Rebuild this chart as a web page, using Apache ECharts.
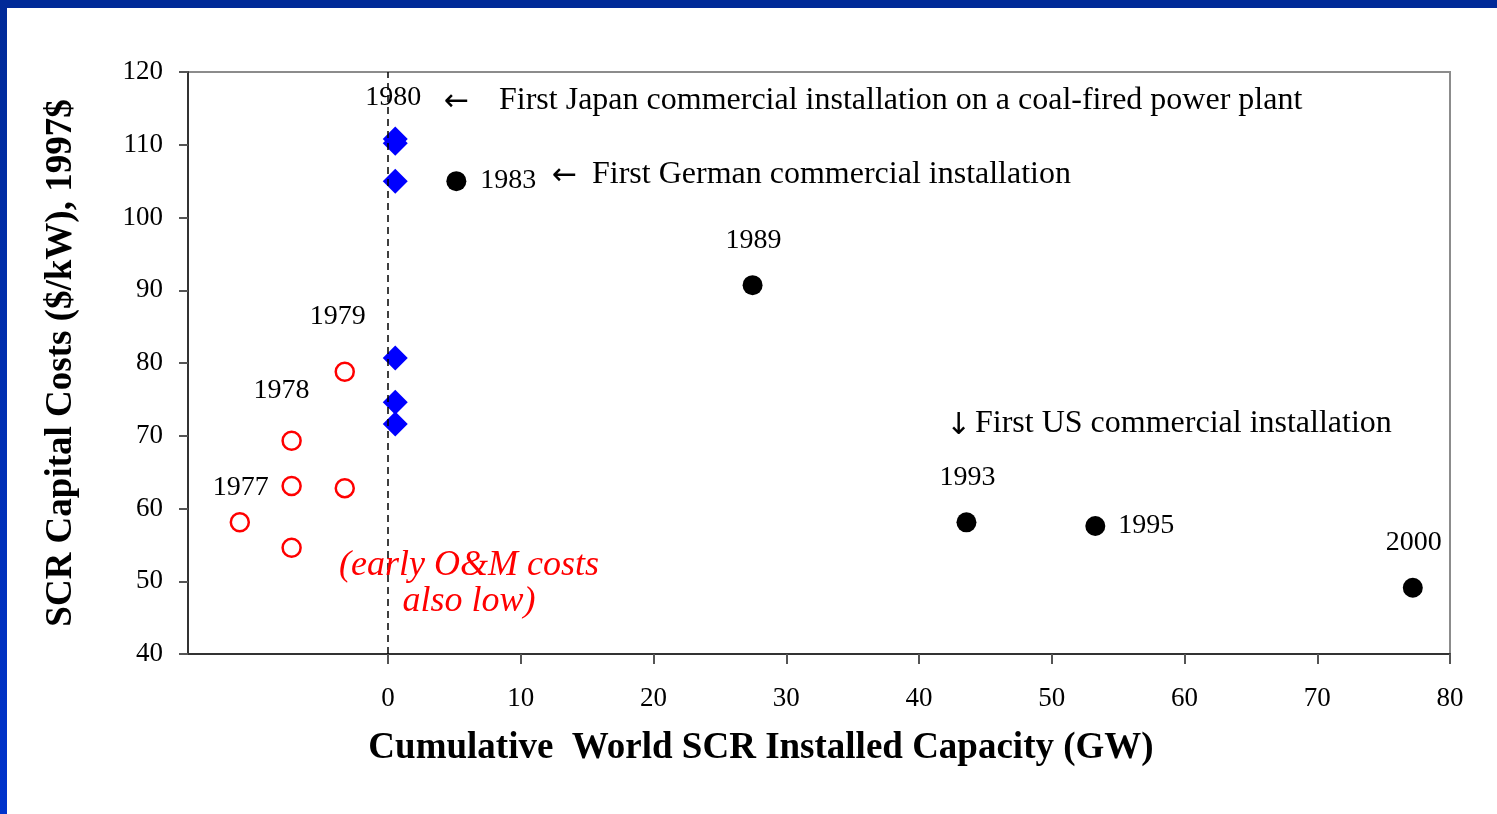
<!DOCTYPE html>
<html>
<head>
<meta charset="utf-8">
<script src="https://cdn.jsdelivr.net/npm/echarts@6/dist/echarts.min.js"></script>
<style>
  html, body { margin: 0; padding: 0; background: #fff; }
  #main { width: 1497px; height: 814px; }
</style>
</head>
<body>
<div id="main"></div>
<script>
// values
var xTicks = [0, 10, 20, 30, 40, 50, 60, 70, 80];
var yTicks = [40, 50, 60, 70, 80, 90, 100, 110, 120];

var earlyPoints = [[-11.1, 58.1], [-7.2, 69.3], [-7.2, 63.1], [-7.2, 54.6], [-3.2, 78.8], [-3.2, 62.8]];
var earlyYears = ['1977', '1978', '', '', '1979', ''];

var japanPoints = [[0.6, 110.8], [0.6, 110.2], [0.6, 105.0], [0.6, 80.7], [0.6, 74.6], [0.6, 71.6]];
var japanYears = ['1980', '', '', '', '', ''];

var worldPoints = [[5.2, 105.0], [27.5, 90.7], [43.6, 58.1], [53.3, 57.6], [77.2, 49.1]];
var worldYears = ['1983', '1989', '1993', '1995', '2000'];

var serif = '"Liberation Serif", "Times New Roman", serif';

// where each year label sits relative to its point
var labelPlace = {
  '1977': { position: 'inside', offset: [1, -35] },
  '1978': { position: 'inside', offset: [-10, -50] },
  '1979': { position: 'inside', offset: [-7, -55] },
  '1980': { position: 'inside', offset: [-2, -41] },
  '1983': { position: 'right', distance: 14, offset: [0, 0] },
  '1989': { position: 'inside', offset: [1, -45] },
  '1993': { position: 'inside', offset: [1, -45] },
  '1995': { position: 'right', distance: 13, offset: [0, 0] },
  '2000': { position: 'inside', offset: [1, -45] }
};

function build(points, years) {
  return points.map(function (p, i) {
    var item = { value: p };
    var y = years[i];
    if (y) {
      var pl = labelPlace[y];
      item.label = {
        show: true,
        formatter: y,
        position: pl.position,
        distance: pl.distance || 5,
        offset: pl.offset,
        color: '#000',
        fontFamily: serif,
        fontSize: 28
      };
    }
    return item;
  });
}

function note(x, y, txt, font) {
  return {
    type: 'text', x: x, y: y, z: 10,
    style: { text: txt, fill: '#000', font: font, verticalAlign: 'middle' }
  };
}

var arrowFont = '30px "DejaVu Sans", sans-serif';

var myChart = echarts.init(document.getElementById('main'));

var option = {
  backgroundColor: '#fff',
  animation: false,
  grid: [
    { left: 188, top: 72, right: 47, bottom: 160, show: true, borderColor: '#8c8c8c', borderWidth: 2, backgroundColor: 'transparent' },
    { left: 388, top: 72, right: 47, bottom: 160 }
  ],
  xAxis: [
    {
      type: 'value', gridIndex: 0, min: -15, max: 80,
      axisLine: { show: true, onZero: false, lineStyle: { color: '#333', width: 2 } },
      axisTick: { show: false },
      axisLabel: { show: false },
      splitLine: { show: false },
      name: 'Cumulative  World SCR Installed Capacity (GW)',
      nameLocation: 'middle',
      nameGap: 76,
      nameTextStyle: { color: '#000', fontFamily: serif, fontWeight: 'bold', fontSize: 37, padding: [0, 116, 0, 0] }
    },
    {
      type: 'value', gridIndex: 1, min: xTicks[0], max: xTicks[xTicks.length - 1], interval: 10,
      axisLine: { show: false, onZero: false },
      axisTick: { show: true, length: 10, lineStyle: { color: '#555', width: 2 } },
      axisLabel: { margin: 31, color: '#000', fontFamily: serif, fontSize: 27 },
      splitLine: { show: false }
    }
  ],
  yAxis: [
    {
      type: 'value', gridIndex: 0, min: yTicks[0], max: yTicks[yTicks.length - 1], interval: 10,
      axisLine: { show: true, onZero: false, lineStyle: { color: '#333', width: 2 } },
      axisTick: { show: true, length: 9, lineStyle: { color: '#555', width: 2 } },
      axisLabel: { margin: 25, color: '#000', fontFamily: serif, fontSize: 27 },
      splitLine: { show: false },
      name: 'SCR Capital Costs ($/kW), 1997$',
      nameLocation: 'middle',
      nameGap: 108,
      nameRotate: 90,
      nameTextStyle: { color: '#000', fontFamily: serif, fontWeight: 'bold', fontSize: 37 }
    },
    {
      type: 'value', gridIndex: 1, min: 40, max: 120, show: false
    }
  ],
  graphic: [
    {
      type: 'rect', left: 0, top: 0, z: 10,
      shape: { width: 1497, height: 8 },
      style: { fill: '#002a98' }
    },
    {
      type: 'rect', left: 0, top: 0, z: 10,
      shape: { width: 7, height: 814 },
      style: {
        fill: new echarts.graphic.LinearGradient(0, 0, 0, 1, [
          { offset: 0, color: '#002a98' },
          { offset: 1, color: '#0033cc' }
        ])
      }
    },
    note(444, 102, '\u2190', arrowFont),
    note(499, 101, 'First Japan commercial installation on a coal-fired power plant', '32px ' + serif),
    note(552, 176, '\u2190', arrowFont),
    note(592, 175, 'First German commercial installation', '32px ' + serif),
    note(946, 426, '\u2193', arrowFont),
    note(975, 424, 'First US commercial installation', '32px ' + serif),
    {
      type: 'text', x: 469, y: 548, z: 10,
      style: {
        text: '(early O&M costs\nalso low)',
        fill: '#ff0000',
        font: 'italic 36px ' + serif,
        align: 'center',
        lineHeight: 36
      }
    }
  ],
  series: [
    {
      name: 'early',
      type: 'scatter',
      xAxisIndex: 0, yAxisIndex: 0,
      symbol: 'circle',
      symbolSize: 18,
      itemStyle: { color: '#fff', borderColor: '#ff0000', borderWidth: 2.5, opacity: 1 },
      data: build(earlyPoints, earlyYears),
      markLine: {
        silent: true,
        symbol: 'none',
        label: { show: false },
        lineStyle: { color: '#000', type: [7, 5], width: 1.5 },
        data: [{ xAxis: 0 }]
      }
    },
    {
      name: 'japan',
      type: 'scatter',
      xAxisIndex: 0, yAxisIndex: 0,
      symbol: 'diamond',
      symbolSize: 25,
      itemStyle: { color: '#0000ff', opacity: 1 },
      data: build(japanPoints, japanYears)
    },
    {
      name: 'world',
      type: 'scatter',
      xAxisIndex: 0, yAxisIndex: 0,
      symbol: 'circle',
      symbolSize: 20,
      itemStyle: { color: '#000', opacity: 1 },
      data: build(worldPoints, worldYears)
    }
  ]
};

myChart.setOption(option);
</script>
</body>
</html>
